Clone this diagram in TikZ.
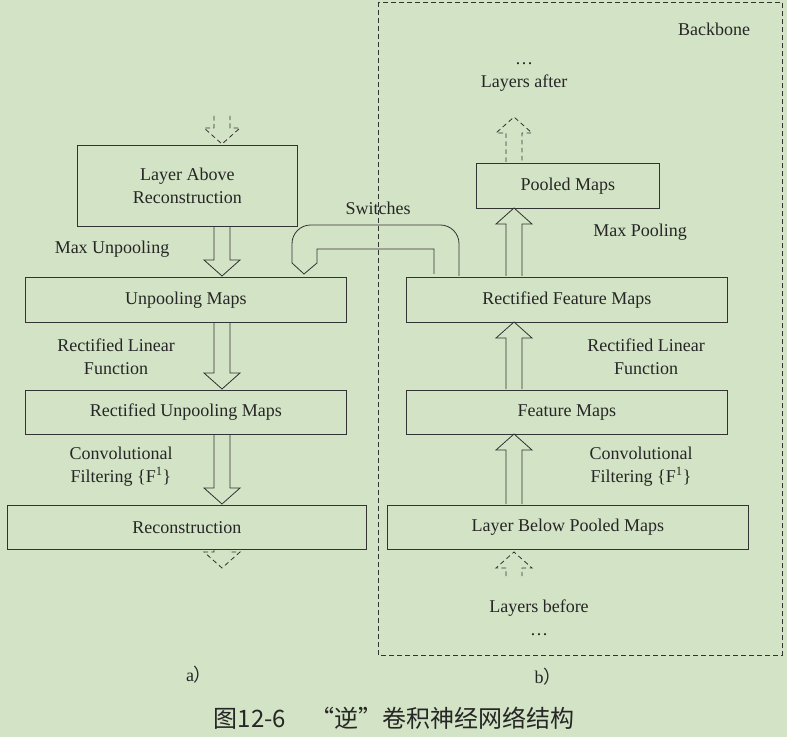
\documentclass[tikz,border=0pt]{standalone}
\usepackage{fontspec}
\setmainfont{Liberation Serif}
\newfontfamily\cjk{Noto Sans CJK SC}
\begin{document}
\begin{tikzpicture}[x=0.75pt,y=-0.75pt,
  box/.style={draw=black!80,line width=0.6pt,inner sep=0pt,anchor=north west},
  lab/.style={font=\fontsize{13.5}{17}\selectfont,align=center,text=black!85},
  harr/.style={draw=black!80,line width=0.6pt},
  darr/.style={draw=black!80,line width=0.6pt,dashed,dash pattern=on 3.5pt off 2.5pt}]
\fill[fill={rgb,255:red,211;green,227;blue,197}] (0,0) rectangle (787,737);
\useasboundingbox (0,0) rectangle (787,737);
\draw[darr] (378,2) rectangle (782,655);
\newcommand\mybox[6]{\node[box,minimum width=#4*0.75pt,minimum height=#5*0.75pt] (#1) at (#2,#3) {};\node[lab] at (#1.center) {#6};}
\mybox{lar}{77}{145}{220}{81}{Layer Above\\Reconstruction}
\mybox{um}{25}{277}{321}{45}{Unpooling Maps}
\mybox{rum}{25}{390}{321}{44}{Rectified Unpooling Maps}
\mybox{rec}{7}{505}{359}{44}{Reconstruction}
\mybox{pm}{476}{163}{183}{45}{Pooled Maps}
\mybox{rfm}{406}{277}{321}{45}{Rectified Feature Maps}
\mybox{fm}{406}{390}{321}{44}{Feature Maps}
\mybox{lbp}{387}{505}{361}{44}{Layer Below Pooled Maps}
\newcommand\harrowv[4]{%
 \pgfmathsetmacro\hs{((#3)>(#2))?-16:16}%
 \draw[#4] (#1-8,#2) -- (#1-8,#3+\hs) -- (#1-18,#3+\hs) -- (#1,#3) -- (#1+18,#3+\hs) -- (#1+8,#3+\hs) -- (#1+8,#2);}
\harrowv{222}{227}{276}{harr}
\harrowv{222}{322}{389}{harr}
\harrowv{222}{434}{504}{harr}
\harrowv{514}{504}{434}{harr}
\harrowv{514}{389}{322}{harr}
\harrowv{514}{276}{208}{harr}
\harrowv{222}{116}{144}{darr}
\harrowv{222}{550}{568}{darr}
\harrowv{514}{162}{117}{darr}
\harrowv{514}{576}{552}{darr}
\draw[harr,rounded corners=14pt] (459,276) -- (459,225) -- (292,225) -- (292,263);
\draw[harr] (292,263) -- (304,274) -- (317,263) -- (317,249) -- (434,249) -- (434,274);
\node[lab] at (112,249) {Max Unpooling};
\node[lab] at (116,357) {Rectified Linear\\Function};
\node[lab] at (121,467) {Convolutional\\Filtering \{F\textsuperscript{1}\}};
\node[lab] at (378,208) {Switches};
\node[lab] at (640,232) {Max Pooling};
\node[lab] at (646,357) {Rectified Linear\\Function};
\node[lab] at (641,467) {Convolutional\\Filtering \{F\textsuperscript{1}\}};
\node[lab] at (714,29) {Backbone};
\node[lab] at (524,77) {…\\Layers after};
\node[lab] at (539,618) {Layers before\\…};
\node[lab] at (199,675) {a{\cjk ）}};
\node[lab] at (548,677) {b{\cjk ）}};
\node[font=\cjk\fontsize{18}{20}\selectfont,text=black!85] at (394,718) {图12-6\quad “逆”卷积神经网络结构};
\end{tikzpicture}
\end{document}
